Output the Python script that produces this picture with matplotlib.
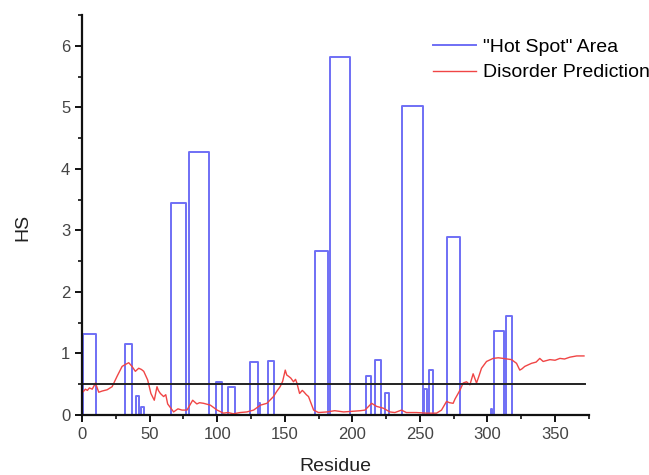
import numpy as np
import matplotlib.pyplot as plt
from matplotlib.ticker import MultipleLocator

plt.rcParams['font.family'] = ['Liberation Sans', 'DejaVu Sans']

# "hot spot" blocks: start residue, end residue, HS value
hs_start = [1, 31.5, 40, 44, 65.5, 79, 99, 108, 124.5, 130.5, 138, 172.5, 183.5,
            210, 217, 224.5, 237, 253, 257, 270, 302.5, 304.5, 314]
hs_end = [10.5, 37, 42, 46, 77, 94, 103.5, 113, 130, 131.5, 142, 182, 198,
          213.5, 221, 227, 252.5, 255.5, 260, 279.5, 303.5, 312.5, 318.5]
hs_height = [1.31, 1.15, 0.31, 0.13, 3.45, 4.27, 0.53, 0.46, 0.86, 0.2, 0.88, 2.66, 5.82,
             0.64, 0.9, 0.35, 5.02, 0.43, 0.73, 2.9, 0.1, 1.36, 1.61]

# disorder prediction curve
dis_res = [1, 2.5, 4, 5.5, 7.6, 10, 12.4, 15, 18.6, 22.3, 26, 29.7, 32, 34.6, 37, 39.5,
           42, 44, 45.7, 48.6, 51, 53.5, 55.5, 56.5, 58, 60.4, 62, 63.4, 67.8, 71, 74,
           77.7, 81.9, 85, 87, 90, 95, 100, 104.7, 108, 112, 117, 122, 127, 132, 136.8,
           141.7, 144, 146.6, 148.5, 150.4, 151.5, 152.8, 154.5, 156.5, 158, 159, 161,
           163, 164, 166, 167.6, 171.4, 175, 181.3, 187, 193.6, 200, 206, 209.4, 214.3,
           218, 223, 227.8, 231.5, 236.4, 240, 247.5, 254.9, 262.3, 266, 269.7, 272,
           274.6, 276, 278.3, 280, 282, 284.5, 287, 289.4, 291.9, 293.5, 295.6, 299.3,
           304.2, 308, 311.6, 317.8, 321.5, 323.9, 325.5, 327.6, 332.6, 336, 338.7,
           341.2, 346.2, 350, 353.6, 357, 361, 366, 371.4]
dis_val = [0.38, 0.42, 0.40, 0.44, 0.42, 0.52, 0.37, 0.39, 0.41, 0.46, 0.63, 0.79, 0.82,
           0.85, 0.79, 0.71, 0.76, 0.74, 0.71, 0.57, 0.35, 0.24, 0.46, 0.40, 0.35, 0.30,
           0.33, 0.18, 0.05, 0.1, 0.08, 0.08, 0.24, 0.18, 0.20, 0.19, 0.16, 0.08, 0.03,
           0.04, 0.02, 0.04, 0.05, 0.08, 0.16, 0.19, 0.30, 0.38, 0.46, 0.55, 0.73, 0.65,
           0.63, 0.60, 0.54, 0.58, 0.52, 0.35, 0.40, 0.38, 0.33, 0.30, 0.08, 0.04, 0.05,
           0.07, 0.05, 0.06, 0.07, 0.08, 0.19, 0.14, 0.11, 0.05, 0.04, 0.08, 0.04, 0.04,
           0.03, 0.03, 0.08, 0.22, 0.20, 0.19, 0.26, 0.35, 0.42, 0.52, 0.54, 0.49, 0.67,
           0.52, 0.62, 0.76, 0.87, 0.92, 0.93, 0.92, 0.90, 0.84, 0.73, 0.75, 0.79, 0.84,
           0.86, 0.92, 0.87, 0.90, 0.89, 0.92, 0.91, 0.94, 0.96, 0.96]

threshold = 0.5

# build the stepped hot-spot profile (back to zero between blocks)
hx, hy = [0], [0]
for s, e, h in zip(hs_start, hs_end, hs_height):
    hx += [s, s, e, e]
    hy += [0, h, h, 0]
hx.append(372)
hy.append(0)

fig = plt.figure(figsize=(6.49, 4.75), dpi=100)
ax = fig.add_axes([0.1263, 0.1263, 0.781, 0.842])

ax.plot(hx, hy, color='#6f6ff5', lw=1.4, label='"Hot Spot" Area', zorder=2)
ax.plot(dis_res, dis_val, color='#f04545', lw=1.0, label='Disorder Prediction', zorder=3)
ax.plot([0, 372], [threshold, threshold], color='#222222', lw=1.4, zorder=4)

ax.set_xlim(0, 375)
ax.set_ylim(0, 6.5)
ax.xaxis.set_major_locator(MultipleLocator(50))
ax.xaxis.set_minor_locator(MultipleLocator(25))
ax.yaxis.set_major_locator(MultipleLocator(1))
ax.yaxis.set_minor_locator(MultipleLocator(0.5))

for side in ['top', 'right']:
    ax.spines[side].set_visible(False)
for side in ['left', 'bottom']:
    ax.spines[side].set_linewidth(1.6)
    ax.spines[side].set_color('#111111')
    ax.spines[side].set_zorder(5)

ax.tick_params(which='major', direction='out', length=5, width=1.4, colors='#111111',
               labelsize=12, labelcolor='#444444')
ax.tick_params(which='minor', direction='out', length=3, width=1.2, colors='#111111')

ax.set_xlabel('Residue', fontsize=14, color='#222222')
ax.set_ylabel('HS', fontsize=14, color='#222222')
ax.xaxis.set_label_coords(0.5, -0.108)
ax.yaxis.set_label_coords(-0.10, 0.468)

fig.legend(*ax.get_legend_handles_labels(), loc='upper left',
           bbox_to_anchor=(0.667, 0.92), bbox_transform=fig.transFigure,
           frameon=False, fontsize=14, handlelength=2.2, handletextpad=0.36,
           labelspacing=0.42, borderpad=0, borderaxespad=0)

fig.savefig('out.png', dpi=100)
